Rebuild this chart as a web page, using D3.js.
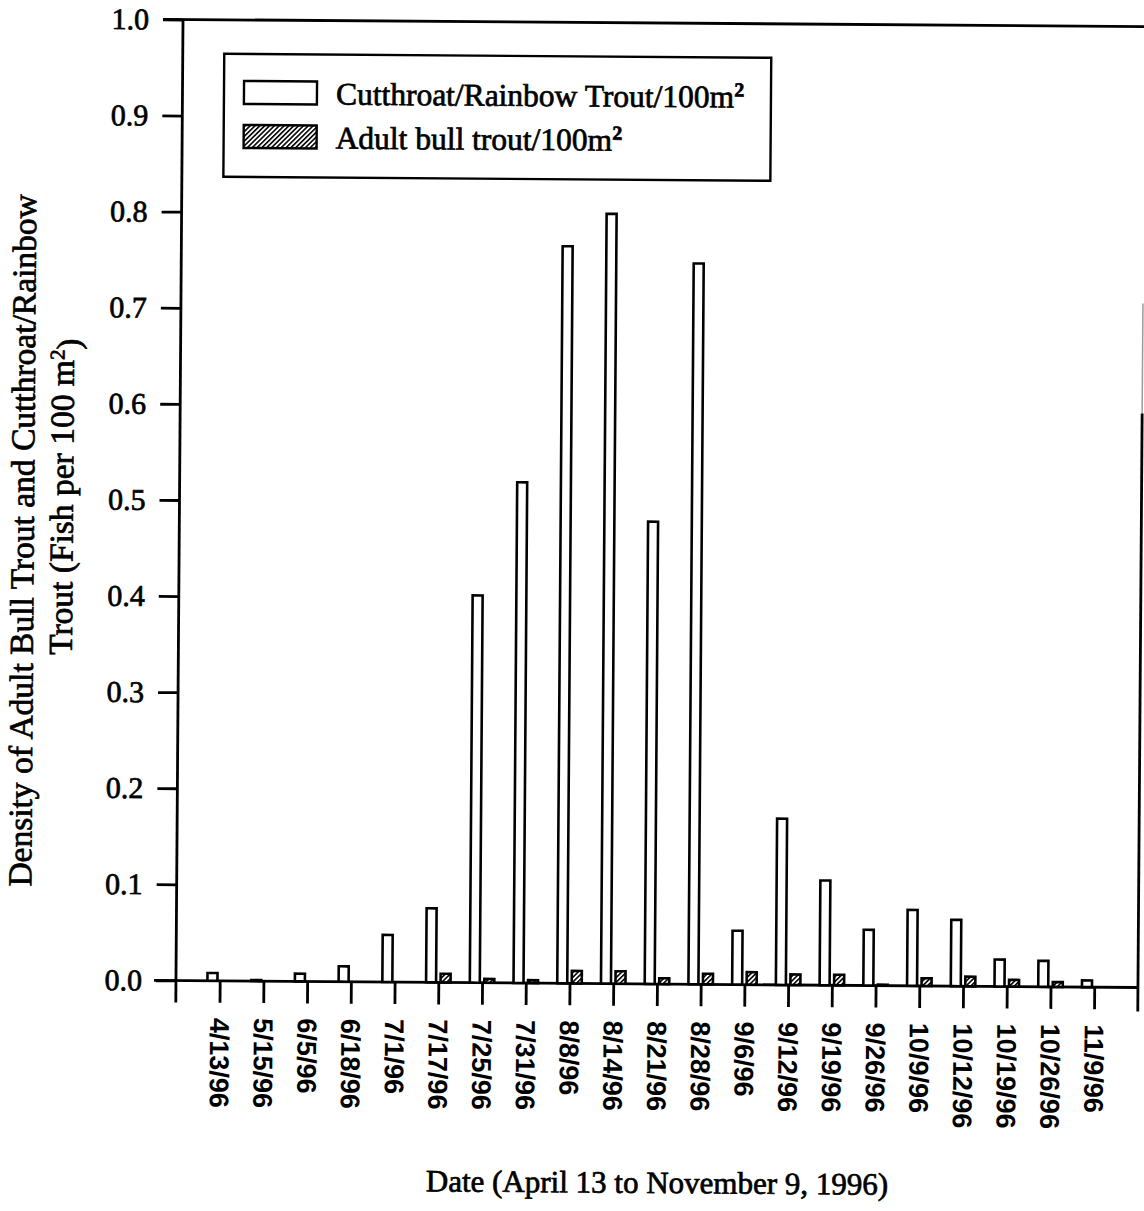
<!DOCTYPE html>
<html>
<head>
<meta charset="utf-8">
<script src="https://cdn.jsdelivr.net/npm/d3@7"></script>
<style>
  body { margin: 0; background: #fff; }
  svg { display: block; }
  .ink { stroke: #000; stroke-width: 0.7px; paint-order: stroke; }
</style>
</head>
<body>
<svg id="chart" width="1144" height="1211"></svg>
<script>
// Sampling dates (April 13 to November 9, 1996)
const dates = ["4/13/96", "5/15/96", "6/5/96", "6/18/96", "7/1/96", "7/17/96", "7/25/96",
  "7/31/96", "8/8/96", "8/14/96", "8/21/96", "8/28/96", "9/6/96", "9/12/96", "9/19/96",
  "9/26/96", "10/9/96", "10/12/96", "10/19/96", "10/26/96", "11/9/96"];

// Cutthroat/rainbow trout per 100 m2
const cutthroatRainbow = [0.008, 0.001, 0.008, 0.016, 0.049, 0.077, 0.403,
  0.521, 0.767, 0.801, 0.481, 0.750, 0.056, 0.173, 0.109,
  0.058, 0.079, 0.069, 0.028, 0.027, 0.007];

// Adult bull trout per 100 m2
const adultBull = [0, 0, 0, 0, 0, 0.009, 0.004,
  0.003, 0.013, 0.013, 0.006, 0.011, 0.013, 0.011, 0.011,
  0.001, 0.008, 0.010, 0.007, 0.005, 0];

const yTicks = [0, 0.1, 0.2, 0.3, 0.4, 0.5, 0.6, 0.7, 0.8, 0.9, 1.0];
const legendLabels = ["Cutthroat/Rainbow Trout/100m", "Adult bull trout/100m"];

const serif = "'Liberation Serif', 'Times New Roman', serif";
const sans = "'Liberation Sans', Arial, sans-serif";

const svg = d3.select("#chart");

// diagonal hatch for the bull trout bars
const defs = svg.append("defs");
const hatch = defs.append("pattern")
  .attr("id", "hatch")
  .attr("patternUnits", "userSpaceOnUse")
  .attr("width", 3.4).attr("height", 3.4)
  .attr("patternTransform", "rotate(45)");
hatch.append("rect").attr("width", 3.4).attr("height", 3.4).attr("fill", "#fff");
hatch.append("line").attr("x1", 0.8).attr("y1", 0).attr("x2", 0.8).attr("y2", 3.4)
  .attr("stroke", "#000").attr("stroke-width", 1.6);

// plot frame
const plotLeft = 179.5, plotRight = 1141.5, plotTop = 23, plotZero = 984;
const x = d3.scalePoint().domain(dates).range([plotLeft, plotRight]).padding(1);
const y = d3.scaleLinear().domain([0, 1]).range([plotZero, plotTop]);

const g = svg.append("g").attr("transform", "rotate(0.42 660 500)");

// y axis
const yAxis = g.append("g")
  .attr("transform", `translate(${plotLeft},0)`)
  .call(d3.axisLeft(y).tickValues(yTicks).tickSize(20).tickPadding(14)
    .tickFormat(d3.format(".1f")));
yAxis.select(".domain").remove();
yAxis.selectAll(".tick line").attr("stroke", "#000").attr("stroke-width", 2.8);
yAxis.selectAll(".tick text")
  .attr("class", "ink")
  .attr("fill", "#000")
  .style("font-family", serif)
  .style("font-size", "30px");

// x axis
const xAxis = g.append("g")
  .attr("transform", `translate(0,${plotZero})`)
  .call(d3.axisBottom(x).tickSize(22).tickSizeOuter(0));
xAxis.select(".domain").remove();
xAxis.selectAll(".tick line").attr("stroke", "#000").attr("stroke-width", 2.8);
xAxis.selectAll(".tick text")
  .attr("transform", "rotate(90)")
  .attr("x", 37).attr("y", 0).attr("dy", "0.36em")
  .attr("fill", "#000")
  .style("text-anchor", "start")
  .style("font-family", sans)
  .style("font-weight", "bold")
  .style("font-size", "27px");

// axis lines and frame
const frame = g.append("g").attr("stroke", "#000").attr("stroke-width", 2.8).attr("fill", "none");
frame.append("line").attr("x1", plotLeft).attr("x2", plotLeft).attr("y1", plotTop).attr("y2", plotZero + 22);
frame.append("line").attr("x1", plotLeft - 22).attr("x2", plotRight).attr("y1", plotZero).attr("y2", plotZero);
frame.append("line").attr("x1", plotLeft - 20).attr("x2", 1160).attr("y1", plotTop).attr("y2", plotTop);
frame.append("line").attr("x1", plotRight).attr("x2", plotRight).attr("y1", 300).attr("y2", 410)
  .attr("stroke", "#999").attr("stroke-width", 1.5);
frame.append("line").attr("x1", plotRight).attr("x2", plotRight).attr("y1", 410).attr("y2", plotZero + 24);

// bars
const barW = 10, gap = 2.25;
const rows = dates.map((d, i) => ({ date: d, ct: cutthroatRainbow[i], bt: adultBull[i] }));
const bars = g.append("g").attr("stroke", "#000").attr("stroke-width", 2.6);
bars.selectAll("rect.ct").data(rows).join("rect")
  .attr("class", "ct")
  .attr("x", d => x(d.date) - gap - barW)
  .attr("width", barW)
  .attr("y", d => y(d.ct))
  .attr("height", d => y(0) - y(d.ct))
  .attr("fill", "#fff");
bars.selectAll("rect.bt").data(rows.filter(d => d.bt > 0)).join("rect")
  .attr("class", "bt")
  .attr("x", d => x(d.date) + gap)
  .attr("width", barW)
  .attr("y", d => y(d.bt))
  .attr("height", d => y(0) - y(d.bt))
  .attr("fill", "url(#hatch)");

// axis titles
g.append("text")
  .attr("class", "ink")
  .attr("x", 662).attr("y", 1193)
  .attr("text-anchor", "middle")
  .style("font-family", serif).style("font-size", "31px")
  .text("Date (April 13 to November 9, 1996)");

g.append("text")
  .attr("class", "ink")
  .attr("transform", "translate(34,545) rotate(-90)")
  .attr("text-anchor", "middle")
  .style("font-family", serif).style("font-size", "33.5px")
  .text("Density of Adult Bull Trout and Cutthroat/Rainbow");
const yt2 = g.append("text")
  .attr("class", "ink")
  .attr("transform", "translate(73,501) rotate(-90)")
  .attr("text-anchor", "middle")
  .style("font-family", serif).style("font-size", "33.5px");
yt2.append("tspan").text("Trout (Fish per 100 m");
yt2.append("tspan").attr("dy", "-0.45em").style("font-size", "21px").text("2");
yt2.append("tspan").attr("dy", "0.45em").text(")");

// legend
const legend = g.append("g");
legend.append("rect")
  .attr("x", 221).attr("y", 57).attr("width", 547).attr("height", 123)
  .attr("fill", "#fff").attr("stroke", "#000").attr("stroke-width", 2.4);
const fills = ["#fff", "url(#hatch)"];
legendLabels.forEach((lab, i) => {
  const yy = 84 + i * 44;
  legend.append("rect")
    .attr("x", 241).attr("y", yy).attr("width", 73).attr("height", 23)
    .attr("fill", fills[i]).attr("stroke", "#000").attr("stroke-width", 2.4);
  const t = legend.append("text")
    .attr("class", "ink")
    .attr("x", 333).attr("y", yy + 23)
    .style("font-family", serif).style("font-size", "31.5px");
  t.append("tspan").text(lab);
  t.append("tspan").attr("dy", "-0.55em").style("font-size", "20px").style("font-weight", "bold").text("2");
});
</script>
</body>
</html>
